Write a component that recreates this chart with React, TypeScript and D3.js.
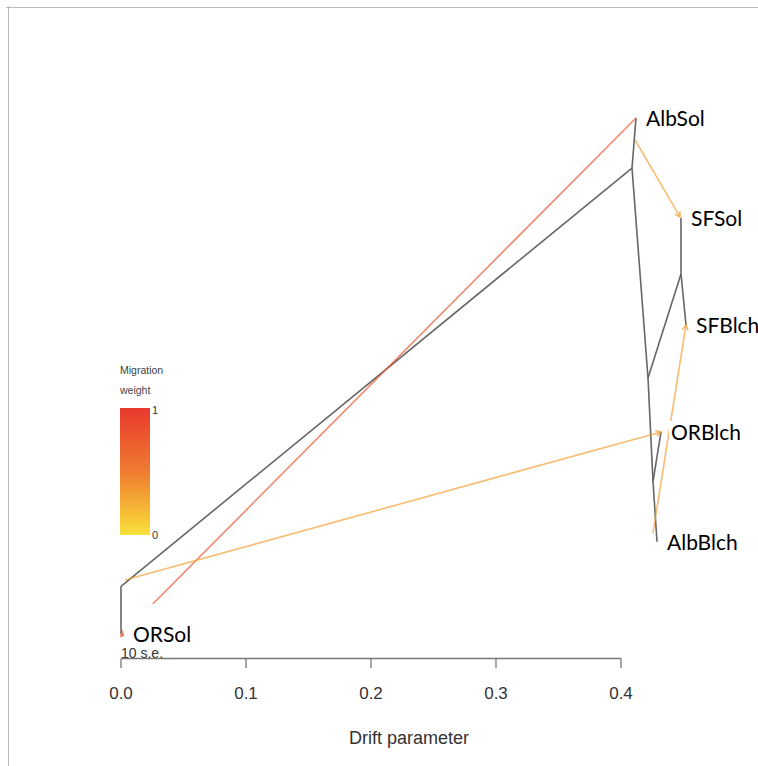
import React from "react";
import * as d3 from "d3";

// ---- data ----
const nodeNames = ["root", "ORSol", "nA", "AlbSol", "nB", "nC", "SFSol", "SFBlch", "nD", "ORBlch", "AlbBlch"];
const nodeDrift = [0, 0, 0.4088, 0.412, 0.4216, 0.448, 0.448, 0.452, 0.4256, 0.432, 0.4288];
const nodeY = [4.52, 4.98, 0.483, 0, 2.51, 1.506, 0.965, 2.0, 3.51, 3.03, 4.09];
const edgeParent = ["root", "root", "nA", "nA", "nB", "nC", "nC", "nB", "nD", "nD"];
const edgeChild = ["ORSol", "nA", "AlbSol", "nB", "nC", "SFSol", "SFBlch", "nD", "ORBlch", "AlbBlch"];
const tipNames = ["AlbSol", "SFSol", "SFBlch", "ORBlch", "AlbBlch", "ORSol"];

const migFromDrift = [0.412, 0.4112, 0.4256, 0.0032];
const migFromY = [0, 0.212, 4.006, 4.46];
const migToDrift = [0, 0.4472, 0.452, 0.432];
const migToY = [5.0, 0.955, 1.998, 3.03];
const migWeight = [0.78, 0.32, 0.32, 0.32];

const xTicks = [0, 0.1, 0.2, 0.3, 0.4];
const legendTicks = ["0", "1"];

export default function App() {
  const W = 758, H = 766;
  const x = d3.scaleLinear().domain([0, 0.4]).range([121, 621]);
  const y = d3.scaleLinear().domain([0, 5]).range([118, 636]);
  const col = d3.scaleLinear<string>().domain([0, 0.5, 1]).range(["#f9e13a", "#f07c30", "#e8392e"]);

  const pos: Record<string, [number, number]> = {};
  nodeNames.forEach((n, i) => (pos[n] = [x(nodeDrift[i]), y(nodeY[i])]));

  const labelFont = "Lato, 'Open Sans', sans-serif";
  const axisFont = "'Liberation Sans', Arial, Helvetica, sans-serif";

  const arrowHead = (x1: number, y1: number, x2: number, y2: number) => {
    const a = Math.atan2(y2 - y1, x2 - x1);
    const L = 6, s = Math.PI / 6;
    const p1 = [x2 - L * Math.cos(a - s), y2 - L * Math.sin(a - s)];
    const p2 = [x2 - L * Math.cos(a + s), y2 - L * Math.sin(a + s)];
    return `M${p1[0]},${p1[1]}L${x2},${y2}L${p2[0]},${p2[1]}`;
  };

  return (
    <svg width={W} height={H} style={{ position: "absolute", left: 0, top: 0, background: "#fff" }}>
      <defs>
        <linearGradient id="mig" x1="0" y1="1" x2="0" y2="0">
          <stop offset="0%" stopColor={col(0)} />
          <stop offset="50%" stopColor={col(0.5)} />
          <stop offset="100%" stopColor={col(1)} />
        </linearGradient>
      </defs>
      {/* frame */}
      <line x1={6} x2={W} y1={7.5} y2={7.5} stroke="#bbb" strokeWidth={1} />
      <line x1={8.5} x2={8.5} y1={6} y2={H} stroke="#bbb" strokeWidth={1} />

      {/* tree edges */}
      {edgeParent.map((p, i) => {
        const a = pos[p], b = pos[edgeChild[i]];
        return <line key={"e" + i} x1={a[0]} y1={a[1]} x2={b[0]} y2={b[1]} stroke="#666" strokeWidth={1.6} />;
      })}

      {/* "10 s.e." */}
      <text x={121} y={658} fontFamily={axisFont} fontSize={14} fill="#333">10 s.e.</text>

      {/* migration edges */}
      {migWeight.map((w, i) => {
        const x1 = x(migFromDrift[i]), y1 = y(migFromY[i]);
        const x2 = x(migToDrift[i]), y2 = y(migToY[i]);
        return (
          <g key={"m" + i} stroke={col(w)} strokeOpacity={0.7} fill="none" strokeWidth={1.6}>
            <line x1={x1} y1={y1} x2={x2} y2={y2} />
            <path d={arrowHead(x1, y1, x2, y2)} />
          </g>
        );
      })}

      {/* tip labels */}
      {tipNames.map((t) => {
        const [px, py] = pos[t];
        const dx = t === "ORSol" ? 12 : 10;
        const big = t === "ORSol";
        return (
          <g key={t}>
            <rect
              x={px + dx - (big ? 9 : 2)}
              y={py - (big ? 30 : 11)}
              width={t.length * 11 + (big ? 14 : 4)}
              height={big ? 42 : 22}
              fill="#fff"
            />
            <text x={px + dx} y={py + 8} fontFamily={labelFont} fontSize={21} fill="#000">{t}</text>
          </g>
        );
      })}

      {/* axis */}
      <g>
        <line x1={x(0)} x2={x(0.4)} y1={658.5} y2={658.5} stroke="#777" strokeWidth={1.3} />
        {xTicks.map((t) => (
          <g key={t}>
            <line x1={x(t)} x2={x(t)} y1={658.5} y2={668} stroke="#777" strokeWidth={1.3} />
            <text x={x(t)} y={699} textAnchor="middle" fontFamily={axisFont} fontSize={17} fill="#333">{t.toFixed(1)}</text>
          </g>
        ))}
        <text x={409} y={744} textAnchor="middle" fontFamily={axisFont} fontSize={18} fill="#333">Drift parameter</text>
      </g>

      {/* legend */}
      <text x={120} y={374} fontFamily={axisFont} fontSize={10.5} fill="#444">Migration</text>
      <text x={120} y={394} fontFamily={axisFont} fontSize={10.5} fill="#444">weight</text>
      <rect x={120} y={408} width={30} height={127} fill="url(#mig)" />
      <text x={152} y={539} fontFamily={axisFont} fontSize={11} fill="#333">{legendTicks[0]}</text>
      <text x={152} y={414} fontFamily={axisFont} fontSize={11} fill="#333">{legendTicks[1]}</text>
    </svg>
  );
}
